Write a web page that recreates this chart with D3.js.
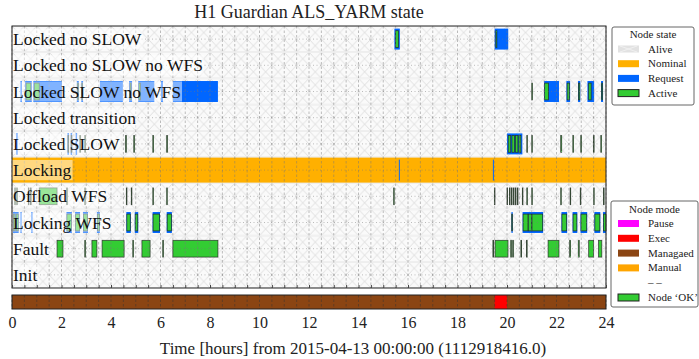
<!DOCTYPE html>
<html><head><meta charset="utf-8">
<script src="https://cdn.jsdelivr.net/npm/d3@7"></script>
<style>body{margin:0;background:#fff}</style>
</head><body><svg id="c" width="699" height="359"></svg>
<script>
// ---------------- data ----------------
const states = ["Locked no SLOW","Locked no SLOW no WFS","Locked SLOW no WFS","Locked transition",
  "Locked SLOW","Locking","Offload WFS","Locking WFS","Fault","Init"];
const hourTicks = [0,2,4,6,8,10,12,14,16,18,20,22,24];
const gridHours = [0,0.5,1,1.5,2,2.5,3,3.5,4,4.5,5,5.5,6,6.5,7,7.5,8,8.5,9,9.5,10,10.5,11,11.5,12,
  12.5,13,13.5,14,14.5,15,15.5,16,16.5,17,17.5,18,18.5,19,19.5,20,20.5,21,21.5,22,22.5,23,23.5,24];
// [state, start hour, end hour]
const aliveSegments = [
  ["Locked no SLOW",0,24],["Locked no SLOW no WFS",0,24],["Locked SLOW no WFS",0,24],["Locked transition",0,24],
  ["Locked SLOW",0,24],["Locking",0,24],["Offload WFS",0,24],["Locking WFS",0,24],["Fault",0,24],["Init",0,24]];
const nominalSegments = [["Locking",0,24]];
const requestSegments = [
  ["Locked no SLOW",15.45,15.67],["Locked no SLOW",19.5,20.05],
  ["Locked SLOW no WFS",0.34,0.4],["Locked SLOW no WFS",0.53,0.8],["Locked SLOW no WFS",0.86,2.02],
  ["Locked SLOW no WFS",2.62,2.7],["Locked SLOW no WFS",2.8,2.87],["Locked SLOW no WFS",3.55,4.48],
  ["Locked SLOW no WFS",4.73,4.85],["Locked SLOW no WFS",5.1,5.75],["Locked SLOW no WFS",6.02,6.1],
  ["Locked SLOW no WFS",6.5,8.32],["Locked SLOW no WFS",21.5,22.1],["Locked SLOW no WFS",22.4,22.55],
  ["Locked SLOW no WFS",22.87,22.96],["Locked SLOW no WFS",23.25,23.52],["Locked SLOW no WFS",23.8,23.88],
  ["Locked SLOW",0.17,0.23],["Locked SLOW",2.24,2.3],["Locked SLOW",2.37,2.43],["Locked SLOW",2.57,2.63],
  ["Locked SLOW",20.0,20.62],
  ["Locking",15.63,15.66],["Locking",19.43,19.47],
  ["Locking WFS",0.04,0.27],["Locking WFS",0.34,0.39],["Locking WFS",0.78,0.83],["Locking WFS",2.2,2.42],
  ["Locking WFS",2.55,2.75],["Locking WFS",2.87,3.07],["Locking WFS",3.43,3.55],["Locking WFS",4.62,4.8],
  ["Locking WFS",4.96,5.1],["Locking WFS",5.68,5.98],["Locking WFS",6.25,6.46],["Locking WFS",20.18,20.23],
  ["Locking WFS",20.63,21.46],["Locking WFS",22.2,22.43],["Locking WFS",22.65,22.84],["Locking WFS",22.97,23.24],
  ["Locking WFS",23.53,23.77],["Locking WFS",23.88,24]];
const activeSegments = [
  ["Locked no SLOW",15.5,15.62],["Locked no SLOW",19.55,19.59],
  ["Locked SLOW no WFS",0.57,0.76],["Locked SLOW no WFS",0.9,1.1],["Locked SLOW no WFS",2.64,2.68],
  ["Locked SLOW no WFS",2.82,2.85],["Locked SLOW no WFS",4.77,4.81],["Locked SLOW no WFS",5.13,5.19],
  ["Locked SLOW no WFS",21.0,21.03],["Locked SLOW no WFS",21.52,21.68],["Locked SLOW no WFS",22.43,22.52],
  ["Locked SLOW no WFS",22.89,22.94],["Locked SLOW no WFS",23.3,23.4],["Locked SLOW no WFS",23.82,23.86],
  ["Locked SLOW",2.26,2.29],["Locked SLOW",2.39,2.42],["Locked SLOW",2.74,2.77],["Locked SLOW",2.94,2.97],
  ["Locked SLOW",4.59,4.62],["Locked SLOW",4.92,4.95],["Locked SLOW",5.69,5.72],["Locked SLOW",6.25,6.28],
  ["Locked SLOW",20.05,20.15],["Locked SLOW",20.2,20.3],["Locked SLOW",20.34,20.44],["Locked SLOW",20.48,20.56],
  ["Locked SLOW",20.8,20.82],["Locked SLOW",21.0,21.02],["Locked SLOW",22.17,22.21],["Locked SLOW",22.66,22.69],
  ["Locked SLOW",22.98,23.01],["Locked SLOW",23.49,23.52],["Locked SLOW",23.79,23.82],
  ["Offload WFS",0.11,0.13],["Offload WFS",0.19,0.21],["Offload WFS",0.66,0.68],["Offload WFS",0.75,0.77],
  ["Offload WFS",1.1,1.82],["Offload WFS",2.21,2.23],["Offload WFS",2.94,2.96],["Offload WFS",4.62,4.64],
  ["Offload WFS",4.82,4.84],["Offload WFS",5.69,5.71],["Offload WFS",6.25,6.27],["Offload WFS",15.42,15.44],
  ["Offload WFS",19.49,19.51],["Offload WFS",20.0,20.02],["Offload WFS",20.1,20.12],["Offload WFS",20.18,20.2],
  ["Offload WFS",20.26,20.28],["Offload WFS",20.34,20.36],["Offload WFS",20.42,20.44],["Offload WFS",20.62,20.64],
  ["Offload WFS",20.8,20.82],["Offload WFS",21.0,21.02],["Offload WFS",22.17,22.19],["Offload WFS",22.55,22.57],
  ["Offload WFS",22.96,22.98],["Offload WFS",23.5,23.52],["Offload WFS",23.9,23.92],
  ["Locking WFS",0.06,0.12],["Locking WFS",0.17,0.25],["Locking WFS",2.22,2.4],["Locking WFS",2.57,2.73],
  ["Locking WFS",2.89,3.05],["Locking WFS",3.45,3.53],["Locking WFS",4.64,4.78],["Locking WFS",4.98,5.08],
  ["Locking WFS",5.7,5.96],["Locking WFS",6.27,6.44],["Locking WFS",20.19,20.22],["Locking WFS",20.65,20.85],
  ["Locking WFS",20.86,21.0],["Locking WFS",21.01,21.44],["Locking WFS",22.22,22.41],["Locking WFS",22.67,22.82],
  ["Locking WFS",22.99,23.22],["Locking WFS",23.55,23.75],["Locking WFS",23.9,24],
  ["Fault",1.82,2.06],["Fault",2.94,2.97],["Fault",3.23,3.43],["Fault",3.64,4.53],["Fault",4.88,4.91],
  ["Fault",5.25,5.58],["Fault",6.09,6.12],["Fault",6.5,8.32],["Fault",19.43,19.46],["Fault",19.52,20.04],
  ["Fault",20.15,20.18],["Fault",20.23,20.26],["Fault",20.56,20.59],["Fault",20.79,20.81],["Fault",21.66,22.1],
  ["Fault",22.53,22.57],["Fault",22.88,22.92],["Fault",23.3,23.5],["Fault",23.7,23.83]];
const managedSegments = [[0,24]];
const execSegments = [[19.5,20.0]];
const stateLegend = ["Alive","Nominal","Request","Active"];
const modeLegend = ["Pause","Exec","Managaed","Manual","– –","Node ‘OK’"];

// ---------------- drawing ----------------
const svg = d3.select("#c");
const F = "'Liberation Serif','Times New Roman',serif";
const x = d3.scaleLinear().domain([0,24]).range([12,606]);
const y = d3.scaleBand().domain(states).range([26,288]);
const modeY0 = 295, modeY1 = 309;
const C = {alive:"#e2e2e2", nominal:"#ffb000", request:"#0066ff", active:"#33cc33",
  pause:"#ff00ff", exec:"#ff0000", managed:"#8b4513", manual:"#ffa500"};

const defs = svg.append("defs");
const pw = x(0.5)-x(0), ph = y.bandwidth()/2;
const pat = defs.append("pattern").attr("id","hx").attr("patternUnits","userSpaceOnUse")
  .attr("x",12).attr("y",26).attr("width",pw).attr("height",ph);
pat.append("rect").attr("width",pw).attr("height",ph).attr("fill","#fafafa");
pat.append("path").attr("d",`M0,0L${pw},${ph}M${pw},0L0,${ph}`).attr("stroke","#d8d8d8").attr("stroke-width",0.8);

const g = svg.append("g");
g.selectAll("rect.alive").data(aliveSegments).join("rect")
  .attr("x",d=>x(d[1])).attr("width",d=>x(d[2])-x(d[1]))
  .attr("y",d=>y(d[0])+0.5).attr("height",y.bandwidth()-1)
  .attr("fill","url(#hx)").attr("stroke","#e6e6e6").attr("stroke-width",0.6);
g.selectAll("rect.nom").data(nominalSegments).join("rect")
  .attr("x",d=>x(d[1])).attr("width",d=>x(d[2])-x(d[1]))
  .attr("y",d=>y(d[0])+0.6).attr("height",y.bandwidth()-1.2).attr("fill",C.nominal);
const rh = y.bandwidth()*0.8;
g.selectAll("rect.req").data(requestSegments).join("rect")
  .attr("x",d=>x(d[1])).attr("width",d=>Math.max(1,x(d[2])-x(d[1])))
  .attr("y",d=>y(d[0])+(y.bandwidth()-rh)/2).attr("height",rh).attr("fill",C.request);
const ah = y.bandwidth()*0.64;
g.selectAll("rect.act").data(activeSegments).join("rect")
  .attr("x",d=>x(d[1])).attr("width",d=>Math.max(0.6,x(d[2])-x(d[1])))
  .attr("y",d=>y(d[0])+(y.bandwidth()-ah)/2).attr("height",ah)
  .attr("fill",C.active).attr("stroke","#222").attr("stroke-width",0.8).attr("stroke-opacity",0.8);

// mode bar
g.selectAll("rect.man").data(managedSegments).join("rect")
  .attr("x",d=>x(d[0])).attr("width",d=>x(d[1])-x(d[0])).attr("y",modeY0).attr("height",modeY1-modeY0).attr("fill",C.managed);
g.selectAll("rect.exe").data(execSegments).join("rect")
  .attr("x",d=>x(d[0])).attr("width",d=>x(d[1])-x(d[0])).attr("y",modeY0).attr("height",modeY1-modeY0).attr("fill",C.exec);

// grid
const grid = svg.append("g");
grid.selectAll("line.v").data(gridHours).join("line")
  .attr("x1",d=>x(d)).attr("x2",d=>x(d)).attr("y1",26).attr("y2",288)
  .attr("stroke","#777").attr("stroke-opacity",0.6).attr("stroke-width",0.8).attr("stroke-dasharray","2.5,2");
grid.selectAll("line.vm").data(gridHours).join("line")
  .attr("x1",d=>x(d)).attr("x2",d=>x(d)).attr("y1",modeY0).attr("y2",modeY1)
  .attr("stroke","#333").attr("stroke-opacity",0.6).attr("stroke-width",0.8).attr("stroke-dasharray","2.5,2");
grid.selectAll("line.h").data(states).join("line")
  .attr("x1",12).attr("x2",606).attr("y1",d=>y(d)+y.bandwidth()/2).attr("y2",d=>y(d)+y.bandwidth()/2)
  .attr("stroke","#777").attr("stroke-opacity",0.6).attr("stroke-width",0.8).attr("stroke-dasharray","1,2.5");

// labels with translucent box
const lab = svg.append("g");
states.forEach(s=>{
  const t = lab.append("text").attr("x",13).attr("y",y(s)+y.bandwidth()/2+6)
    .attr("font-family",F).attr("font-size",17.5).attr("fill","#111").text(s);
  const bb = t.node().getBBox();
  lab.insert("rect","text").attr("x",bb.x-1).attr("y",y(s)+3).attr("width",bb.width+2).attr("height",y.bandwidth()-6)
    .attr("fill","#fff").attr("fill-opacity",0.5);
});
lab.selectAll("text").raise();

// frames
svg.append("rect").attr("x",12).attr("y",26).attr("width",594).attr("height",262)
  .attr("fill","none").attr("stroke","#222").attr("stroke-width",1);
svg.append("rect").attr("x",12).attr("y",modeY0).attr("width",594).attr("height",modeY1-modeY0)
  .attr("fill","none").attr("stroke","#222").attr("stroke-width",1);
svg.append("g").attr("transform","translate(0,288)")
  .call(d3.axisBottom(x).tickValues(gridHours).tickSize(-3).tickFormat(""))
  .call(a=>{a.select(".domain").remove(); a.selectAll("line").attr("stroke","#444");});

// x axis
const ax = svg.append("g").attr("transform",`translate(0,${modeY1})`)
  .call(d3.axisBottom(x).tickValues(hourTicks).tickSize(0).tickPadding(8).tickFormat(d3.format("d")));
ax.select(".domain").remove();
ax.selectAll("text").attr("font-family",F).attr("font-size",16).attr("fill","#222");

svg.append("text").attr("x",309).attr("y",18).attr("text-anchor","middle")
  .attr("font-family",F).attr("font-size",18).attr("fill","#222").text("H1 Guardian ALS_YARM state");
svg.append("text").attr("x",353).attr("y",354).attr("text-anchor","middle")
  .attr("font-family",F).attr("font-size",17).attr("fill","#222")
  .text("Time [hours] from 2015-04-13 00:00:00 (1112918416.0)");

// legends
function legend(x0,y0,w,h,title,titleY,items,fills,strokes,y1,dy){
  const lg = svg.append("g");
  lg.append("rect").attr("x",x0).attr("y",y0).attr("width",w).attr("height",h).attr("rx",2)
    .attr("fill","#fff").attr("stroke","#666").attr("stroke-width",1);
  lg.append("text").attr("x",x0+w/2).attr("y",titleY).attr("text-anchor","middle")
    .attr("font-family",F).attr("font-size",11).attr("fill","#222").text(title);
  items.forEach((it,i)=>{
    const cy = y1+i*dy;
    if(fills[i]) lg.append("rect").attr("x",618).attr("y",cy-3.5).attr("width",21).attr("height",7)
      .attr("fill",fills[i]).attr("stroke",strokes[i]||"none").attr("stroke-width",1);
    lg.append("text").attr("x",648).attr("y",cy+3.5).attr("font-family",F).attr("font-size",11)
      .attr("fill","#222").text(it);
  });
  return lg;
}
const l1 = legend(612,27,82,78,"Node state",38,stateLegend,[C.alive,C.nominal,C.request,C.active],[null,null,null,"#222"],49,14.7);
l1.append("path").attr("d","M620,46L637,52M637,46L620,52").attr("stroke","#f4f4f4").attr("stroke-width",0.8);
legend(611,201,87,106,"Node mode",213,modeLegend,[C.pause,C.exec,C.managed,C.manual,null,C.active],[null,null,null,null,null,"#222"],223.5,14.8);
</script></body></html>
